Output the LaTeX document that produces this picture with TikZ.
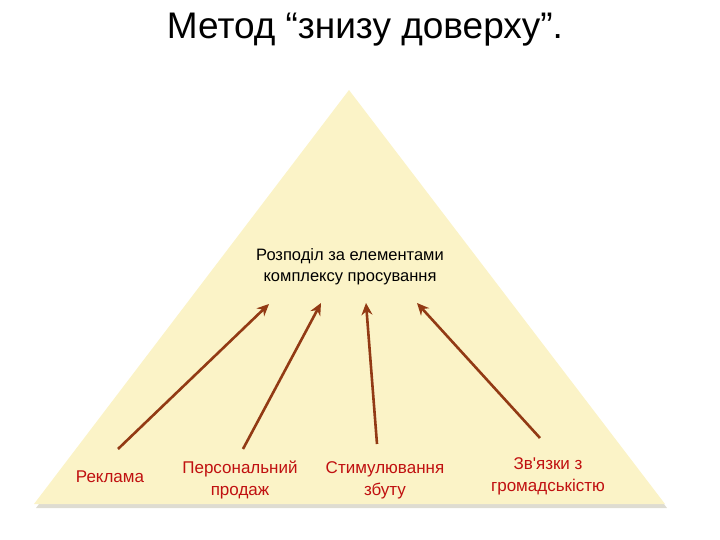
\documentclass[tikz,border=0pt]{standalone}
\usepackage{fontspec}
\setmainfont{Liberation Sans}[Ligatures=TeXOff]
\usetikzlibrary{calc,arrows.meta}
\definecolor{pyrfill}{RGB}{251,243,199}
\definecolor{pyrshadow}{RGB}{200,196,178}
\definecolor{arrbrown}{RGB}{146,58,20}
\definecolor{labred}{RGB}{192,16,16}
\tikzset{
  lab/.style={text=labred, align=center, inner sep=0pt,
    font=\fontsize{17}{22}\selectfont},
  up/.style={line width=2.6pt, arrbrown, -{Stealth[length=12pt,width=11pt]}}
}
\begin{document}
\begin{tikzpicture}[x=1pt,y=-1pt]
        \useasboundingbox (0,0) rectangle (720,540);
        \coordinate (T) at (349,90);
        \coordinate (L) at (34,504);
        \coordinate (R) at (665,504);
        % shadow under the pyramid
        \fill[pyrshadow, opacity=0.6] ($ (L)+(2,4) $) -- ($ (T)+(1,3) $) -- ($ (R)+(2,4) $) -- cycle;
        \fill[pyrfill] (L) -- (T) -- (R) -- cycle;
        \node (title) at (365,30) [inner sep=0pt, font=\fontsize{37}{40}\selectfont] {Метод “знизу доверху”.};
        \node (mid) at (350,267) [inner sep=0pt, align=center, font=\fontsize{16.5}{21}\selectfont]
          {Розподіл за елементами\\комплексу просування};
        \node (rek) at (110,477) [lab] {Реклама};
        \node (pers) at (240,480) [lab] {Персональний\\продаж};
        \node (stim) at (385,480) [lab] {Стимулювання\\збуту};
        \node (zv) at (548,476) [lab] {Зв'язки з\\громадськістю};
        \coordinate (s1) at (118,449);
        \coordinate (s2) at (243,449);
        \coordinate (s3) at (377,444);
        \coordinate (s4) at (540,438);
        \coordinate (t1) at (269,304);
        \coordinate (t2) at (321,303);
        \coordinate (t3) at (366,303);
        \coordinate (t4) at (417,303);
        \draw[up] (s1) -- (t1);
        \draw[up] (s2) -- (t2);
        \draw[up] (s3) -- (t3);
        \draw[up] (s4) -- (t4);
    \end{tikzpicture}
\end{document}
